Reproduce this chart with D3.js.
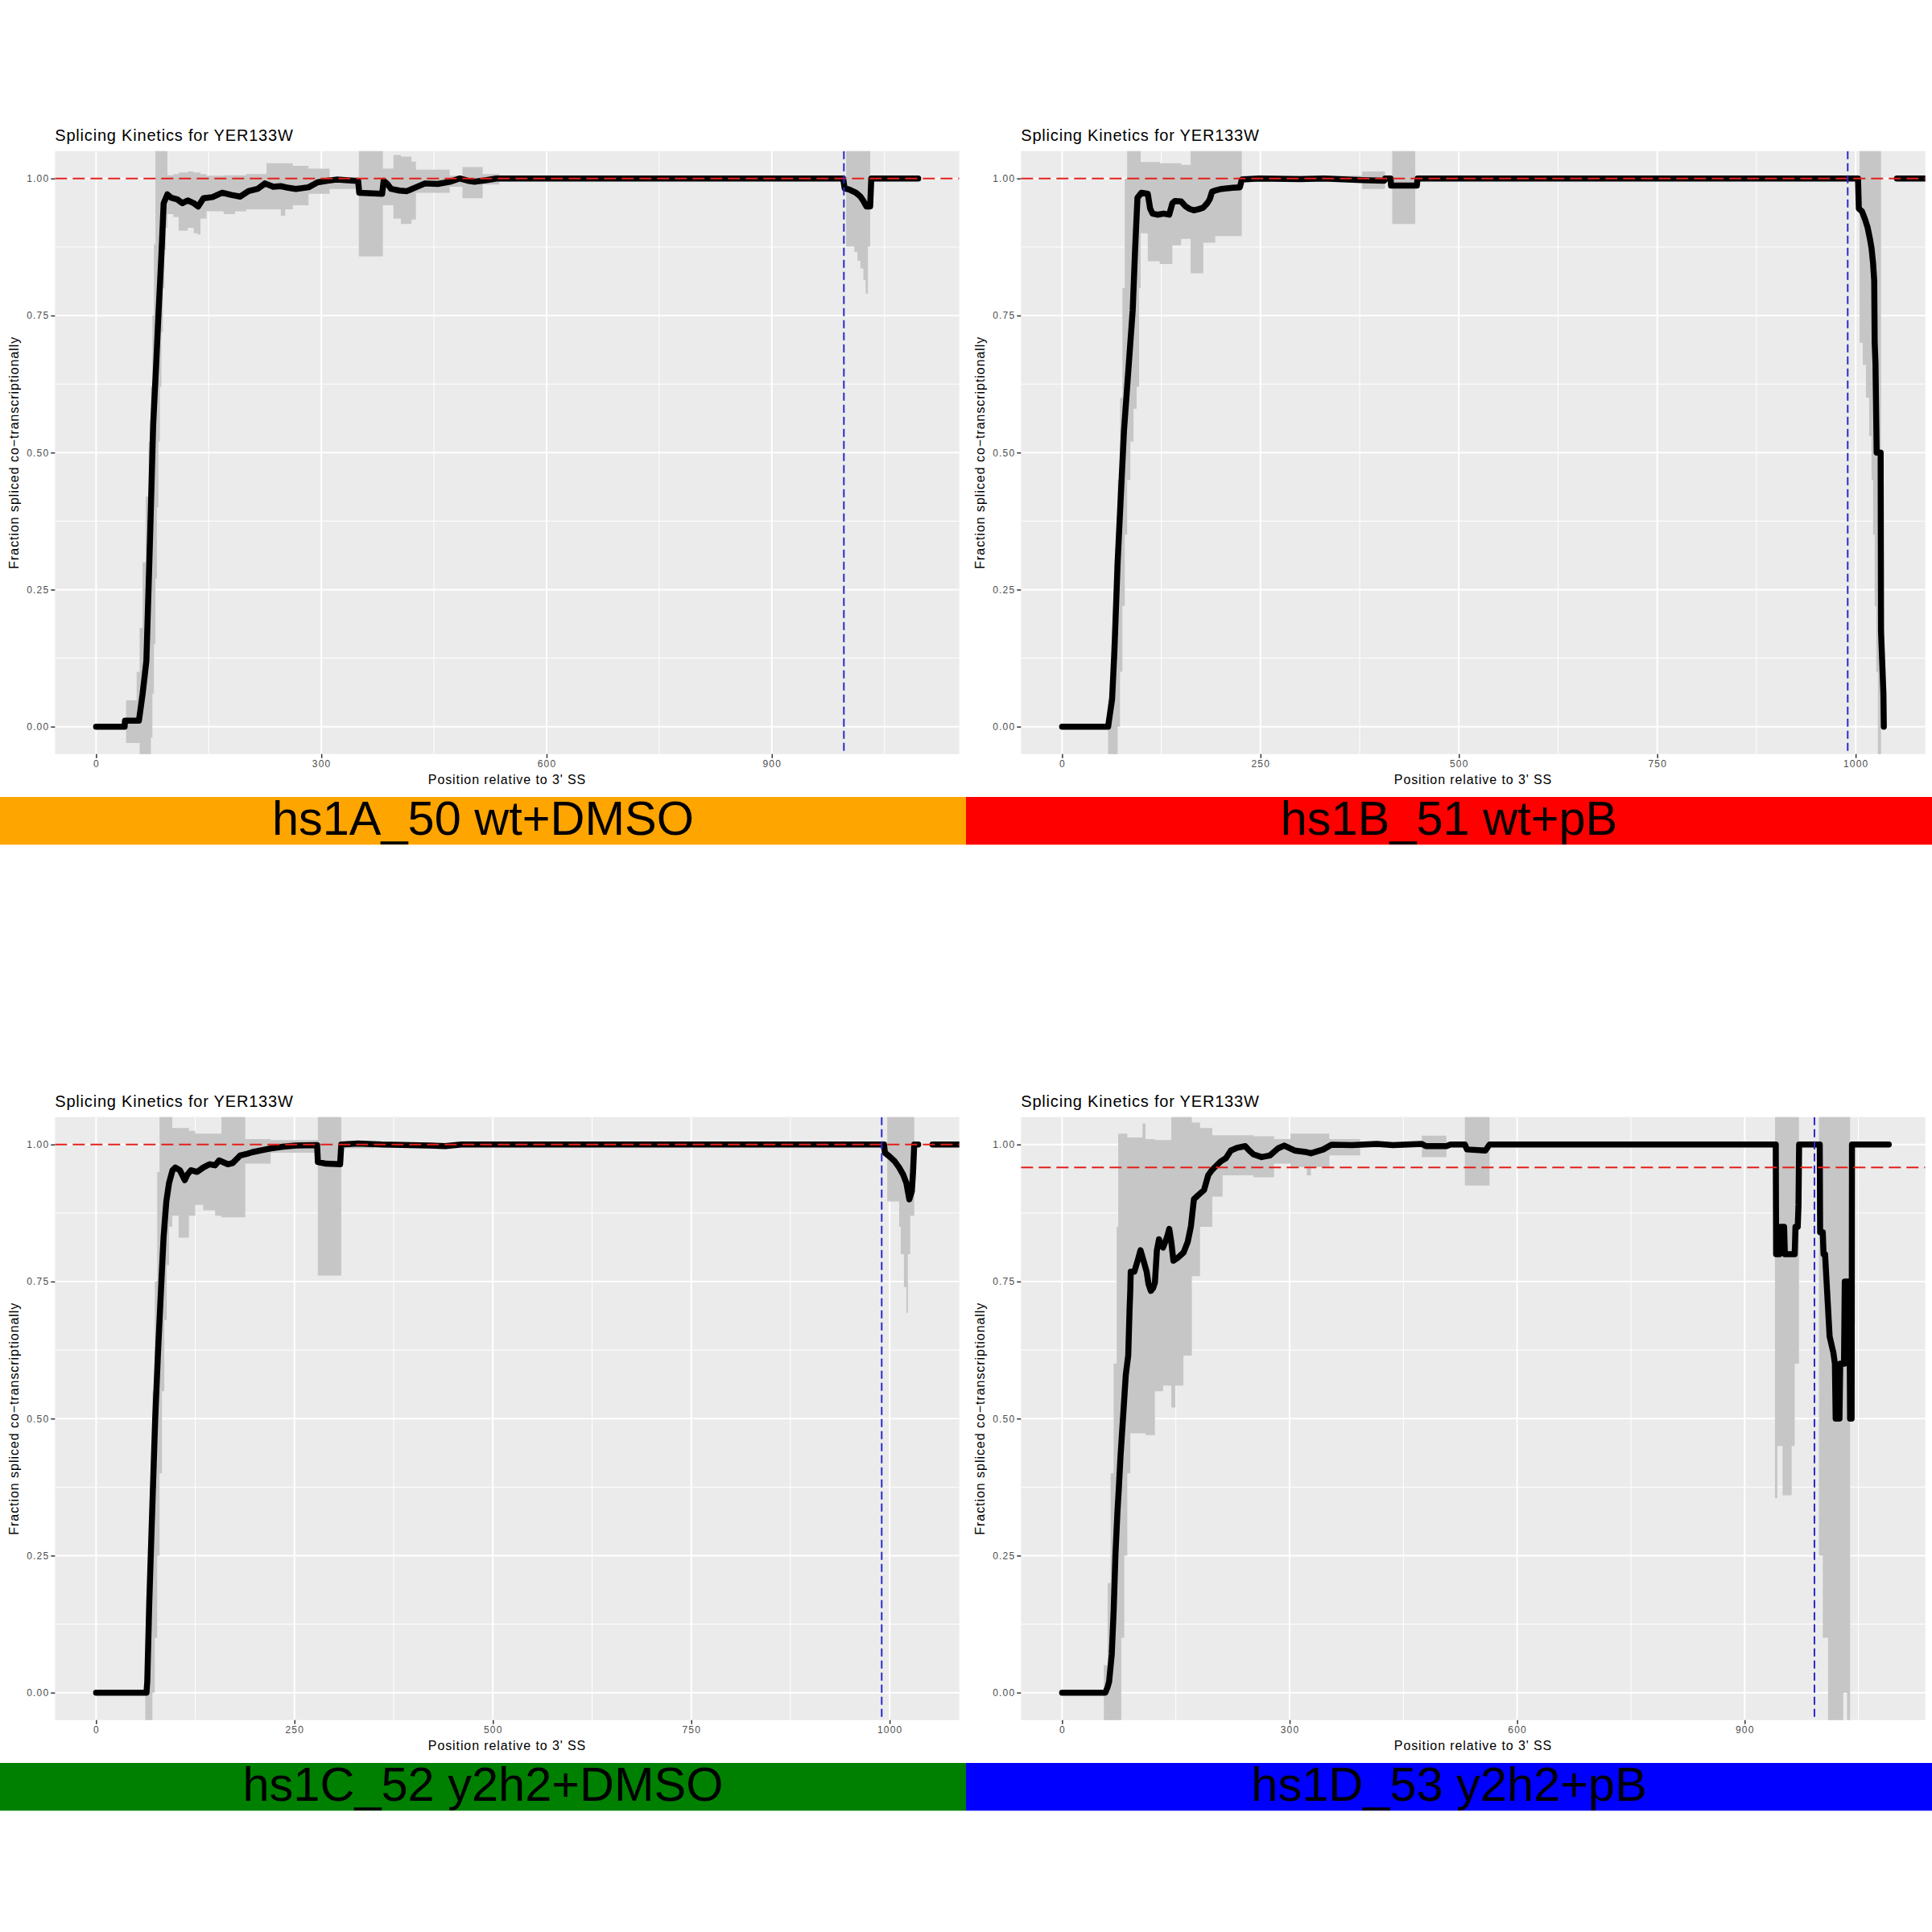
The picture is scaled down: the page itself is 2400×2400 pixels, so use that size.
<!DOCTYPE html>
<html><head><meta charset="utf-8">
<script src="https://cdn.jsdelivr.net/npm/d3@7"></script>
<style>
body{margin:0;background:#fff}
svg{display:block}
text{font-family:"Liberation Sans",Arial,Helvetica,sans-serif}
</style>
</head><body>
<svg id="chart" width="2400" height="2400"></svg>
<script>
// ---------- DATA ----------
const chartTitle = "Splicing Kinetics for YER133W";
const yTitle = "Fraction spliced co\u2212transcriptionally";
const xTitle = "Position relative to 3' SS";
const panelLabels = ["hs1A_50 wt+DMSO", "hs1B_51 wt+pB", "hs1C_52 y2h2+DMSO", "hs1D_53 y2h2+pB"];
const bandColors = ["#FFA500", "#FF0000", "#008000", "#0000FF"];
const xMax = [1095, 1036, 1036, 1084];
const xTicks = [[0,300,600,900],[0,250,500,750,1000],[0,250,500,750,1000],[0,300,600,900]];
const xMinor = [[150,450,750,1050],[125,375,625,875],[125,375,625,875],[150,450,750,1050]];
const yTicks = [0, 0.25, 0.5, 0.75, 1];
const yMinor = [0.125, 0.375, 0.625, 0.875];
const hlineY = [1, 1, 1, 0.958];
const vlineX = [996, 990, 990, 992];

// Panel A line
const posA  = [0,38,38.5,57,58,62,67,72,76,80,83,87,90,95,100,108,115,122,130,136,143,155,168,180,192,203,215,225,236,246,256,266,283,295,308,320,344,349,350.5,381,383,388,393,404,414,426,438,455,471,484,495,504,520,533,560,995,997,1003,1012,1018,1022,1026,1031,1032.5,1095];
const fracA = [0,0,0.011,0.011,0.02,0.06,0.12,0.35,0.55,0.66,0.75,0.86,0.955,0.971,0.965,0.962,0.955,0.96,0.955,0.949,0.964,0.966,0.974,0.97,0.967,0.977,0.981,0.991,0.985,0.986,0.983,0.981,0.984,0.993,0.996,0.998,0.996,0.996,0.974,0.972,0.996,0.99,0.981,0.978,0.977,0.984,0.991,0.99,0.994,1.0,0.996,0.994,0.997,1.0,1.0,1.0,0.982,0.98,0.974,0.967,0.959,0.949,0.949,1.0,1.0];
// Panel A ribbon (step)
const ribPosA = [0,40,54,58,62,66,70,73,75,77,79,81,83,85,87,89,91,93,95,103,110,122,130,135,139,147,170,185,200,227,246,252,262,283,311,350,382,396,406,420,426,471,488,515,537,560,999,1010,1014,1018,1022,1025,1028,1031,1100];
const ribLoA  = [0,-0.03,-0.03,-0.07,-0.07,-0.07,-0.07,-0.02,0.06,0.15,0.27,0.40,0.52,0.62,0.72,0.80,0.87,0.91,0.935,0.93,0.905,0.91,0.90,0.898,0.927,0.94,0.935,0.94,0.944,0.944,0.932,0.944,0.951,0.972,0.981,0.858,0.951,0.927,0.917,0.925,0.974,0.985,0.964,0.989,0.995,1,0.876,0.866,0.85,0.836,0.815,0.79,0.876,1,1];
const ribHiA  = [0,0.048,0.10,0.18,0.30,0.42,0.52,0.62,0.75,0.88,1.1,1.1,1.1,1.1,1.1,1.1,1.1,1.1,1.006,1.008,1.011,1.013,1.011,1.011,1.008,1.005,1.006,1.006,1.008,1.028,1.028,1.028,1.023,1.018,1.0,1.1,1.018,1.043,1.04,1.031,1.016,1.005,1.021,1.008,1.003,1,1.1,1.1,1.1,1.1,1.1,1.1,1.1,1,1];

// Panel B line
const posB  = [0,58,60,63,66,70,74,78,82,86,89,92,95,100,108,111,114,120,128,135,139,142,150,155,160,166,172,178,183,186,189,195,201,215,224,226.5,248,300,330,378,406,407,414,414.5,447,448,1003,1004,1008,1012,1015,1018,1020,1022,1023.4,1024,1025,1026.5,1031.5,1032,1035,1035.5,1036,1052,1100];
const fracB = [0,0,0.02,0.05,0.14,0.30,0.42,0.54,0.62,0.70,0.76,0.87,0.965,0.974,0.972,0.945,0.936,0.934,0.936,0.934,0.955,0.959,0.958,0.95,0.945,0.942,0.944,0.947,0.955,0.962,0.976,0.979,0.981,0.983,0.984,0.998,1.0,0.999,1.0,0.997,0.996,1.0,1.0,0.987,0.987,1.0,1.0,0.945,0.94,0.925,0.911,0.89,0.873,0.845,0.813,0.70,0.663,0.50,0.50,0.174,0.06,0.0,null,1.0,1.0];
const ribPosB = [0,58,62,66,70,73,76,79,82,86,90,94,97,99,108,123,139,150,162,178,193,226.5,378,407,416,445,1005,1009,1013,1017,1020,1022,1024,1026,1028,1032,1100];
const ribLoB  = [0,-0.07,-0.07,-0.07,0.0,0.10,0.22,0.35,0.45,0.52,0.58,0.62,0.80,0.90,0.849,0.844,0.878,0.89,0.827,0.883,0.895,0.995,0.981,0.995,0.917,1,0.70,0.66,0.60,0.53,0.45,0.35,0.22,0.10,-0.07,1,1];
const ribHiB  = [0,0.05,0.15,0.30,0.45,0.60,0.80,1.0,1.1,1.1,1.1,1.1,1.1,1.03,1.03,1.028,1.028,1.025,1.1,1.1,1.1,1.005,1.013,1.003,1.1,1,1.1,1.1,1.1,1.1,1.1,1.1,1.1,1.1,1.1,1,1];

// Panel C line
const posC  = [0,63.5,64.5,67,70,74.5,78,82.3,85,88.5,92,96.3,100,105.6,111.8,115,119.5,127.3,135,143,150,155,166,172,181.6,190,197,210,220.5,235,251.6,278.5,279.5,290,307.5,309,330,360,420,440,460,993,994,1000,1006,1012,1017,1021,1024.8,1028,1029.5,1031,1036,1040,1054,1100];
const fracC = [0,0,0.02,0.163,0.30,0.50,0.62,0.75,0.83,0.896,0.93,0.953,0.958,0.953,0.935,0.945,0.953,0.95,0.958,0.964,0.962,0.971,0.964,0.966,0.98,0.983,0.986,0.99,0.993,0.996,0.998,0.999,0.968,0.965,0.964,1.0,1.002,1.0,0.998,0.997,1.0,1.0,0.985,0.978,0.97,0.958,0.945,0.93,0.90,0.915,0.95,1.0,1.0,null,1.0,1.0];
const ribPosC = [0,62,65,68,71,74,77,80,83,86,89,92,96,104,117,125,135,150,158,188,220,279.5,309,350,997,1012,1014,1018,1021,1023,1026,1031,1100];
const ribLoC  = [0,-0.07,-0.07,-0.07,0.0,0.10,0.25,0.40,0.55,0.68,0.78,0.85,0.87,0.83,0.87,0.89,0.88,0.87,0.867,0.965,0.985,0.761,0.993,1,0.896,0.85,0.80,0.74,0.693,0.80,0.87,1,1];
const ribHiC  = [0,0.05,0.18,0.35,0.55,0.75,0.95,1.1,1.1,1.1,1.1,1.1,1.03,1.03,1.025,1.02,1.02,1.02,1.1,1.01,1.008,1.1,1.005,1,1.1,1.1,1.1,1.1,1.1,1.1,1.1,1,1];

// Panel D line
const posD  = [0,57,60,62,65.5,68,70.4,73,74.7,77,79,81.7,84,87.2,89,89.9,90.5,95.3,100,103.4,107,111.5,114,117,120,122.4,125,127.8,130,133.2,138.6,141.3,144,146.8,152.2,160.2,165.6,169.9,173.8,179.1,187.2,192.7,198,209,216,222.5,230.6,241.5,246,252.3,263.1,274,284.8,292.9,306.5,322.7,328.1,344.4,355.2,382.3,414.7,436.4,474.3,479.7,506.7,512.2,531.1,533.8,558.2,563.6,941,941.5,946,947,952,953,966,967,970,971,971.8,999,999.5,1003,1004,1006,1008,1012,1017,1019,1020,1025,1026,1031,1032,1038,1039,1041,1041.5,1090];
const fracD = [0,0,0.01,0.02,0.07,0.15,0.253,0.33,0.37,0.43,0.473,0.53,0.58,0.615,0.70,0.733,0.768,0.768,0.79,0.807,0.79,0.768,0.745,0.733,0.738,0.748,0.807,0.827,0.815,0.812,0.832,0.846,0.822,0.788,0.793,0.803,0.822,0.851,0.90,0.907,0.917,0.944,0.954,0.969,0.975,0.989,0.994,0.997,0.99,0.982,0.977,0.98,0.993,0.998,0.989,0.986,0.984,0.991,0.9995,0.999,1.001,0.999,1.001,0.997,0.997,1.0,1.0,0.991,0.989,1.0,1.0,0.80,0.80,0.85,0.85,0.80,0.80,0.85,0.85,0.89,1.0,1.0,0.84,0.84,0.80,0.80,0.75,0.65,0.62,0.60,0.50,0.50,0.60,0.60,0.75,0.75,0.50,0.50,1.0,1.0];
const ribPosD = [0,55,60,64,68,72,74,78,82,86,90,106,110,122.4,133.2,144,149.4,160,171.1,181.9,198.1,211.7,252.3,279.4,301,322.7,328.1,352.4,393,474.3,506.7,531.1,563.6,940,943,950,962,966,971.6,998,1003,1010,1030,1035,1039,1100];
const ribLoD  = [0,-0.07,-0.07,-0.07,-0.07,-0.07,-0.07,0.10,0.25,0.40,0.473,0.473,0.47,0.55,0.56,0.52,0.56,0.615,0.76,0.85,0.905,0.944,0.94,0.965,0.959,0.944,0.959,0.98,0.995,0.977,0.997,0.925,1,0.355,0.45,0.36,0.45,0.60,1,0.25,0.10,-0.07,0.0,-0.07,1,1];
const ribHiD  = [0,0.05,0.20,0.40,0.60,0.85,1.02,1.02,1.02,1.013,1.013,1.038,1.01,1.008,1.008,1.1,1.1,1.1,1.04,1.03,1.017,1.017,1.015,1.01,1.02,1.02,1.02,1.01,1.004,1.016,1.003,1.1,1,1.1,1.1,1.1,1.1,1.1,1,1.1,1.1,1.1,1.1,1.1,1,1];

const lineData = [[posA,fracA],[posB,fracB],[posC,fracC],[posD,fracD]];
const ribData = [[ribPosA,ribLoA,ribHiA],[ribPosB,ribLoB,ribHiB],[ribPosC,ribLoC,ribHiC],[ribPosD,ribLoD,ribHiD]];

// ---------- LAYOUT ----------
const cell = 1200;
const P = {x0: 68.3, x1: 1191.7, y0: 187.7, y1: 936.7};
const svg = d3.select("#chart");

panelLabels.forEach((label, i) => {
  const ox = (i % 2) * cell, oy = Math.floor(i / 2) * cell;
  const g = svg.append("g").attr("transform", `translate(${ox},${oy})`);
  const L = xMax[i];
  const x = d3.scaleLinear().domain([-0.05 * L, 1.05 * L]).range([P.x0, P.x1]);
  const y = d3.scaleLinear().domain([-0.05, 1.05]).range([P.y1, P.y0]);

  const clipId = "clip" + i;
  g.append("clipPath").attr("id", clipId).append("rect")
    .attr("x", P.x0).attr("y", P.y0).attr("width", P.x1 - P.x0).attr("height", P.y1 - P.y0);

  g.append("rect").attr("x", P.x0).attr("y", P.y0).attr("width", P.x1 - P.x0).attr("height", P.y1 - P.y0).attr("fill", "#EBEBEB");

  const grid = g.append("g");
  yMinor.forEach(v => grid.append("line").attr("x1", P.x0).attr("x2", P.x1).attr("y1", y(v)).attr("y2", y(v)).attr("stroke", "#fff").attr("stroke-width", 1));
  xMinor[i].forEach(v => grid.append("line").attr("y1", P.y0).attr("y2", P.y1).attr("x1", x(v)).attr("x2", x(v)).attr("stroke", "#fff").attr("stroke-width", 1));
  yTicks.forEach(v => grid.append("line").attr("x1", P.x0).attr("x2", P.x1).attr("y1", y(v)).attr("y2", y(v)).attr("stroke", "#fff").attr("stroke-width", 2));
  xTicks[i].forEach(v => grid.append("line").attr("y1", P.y0).attr("y2", P.y1).attr("x1", x(v)).attr("x2", x(v)).attr("stroke", "#fff").attr("stroke-width", 2));

  const plot = g.append("g").attr("clip-path", `url(#${clipId})`);

  const [rp, rl, rh] = ribData[i];
  const rib = rp.map((p, k) => ({x: p, lo: rl[k], hi: rh[k]}));
  plot.append("path").datum(rib)
    .attr("d", d3.area().curve(d3.curveStepAfter).x(d => x(d.x)).y0(d => y(d.lo)).y1(d => y(d.hi)))
    .attr("fill", "#C6C6C6");

  const [lp, lf] = lineData[i];
  const pts = lp.map((p, k) => ({x: p, y: lf[k]}));
  plot.append("path").datum(pts)
    .attr("d", d3.line().defined(d => d.y !== null).x(d => x(d.x)).y(d => y(d.y)))
    .attr("fill", "none").attr("stroke", "#000").attr("stroke-width", 7.5)
    .attr("stroke-linejoin", "round").attr("stroke-linecap", "round");

  plot.append("line").attr("x1", P.x0).attr("x2", P.x1).attr("y1", y(hlineY[i])).attr("y2", y(hlineY[i]))
    .attr("stroke", "#E3201C").attr("stroke-width", 2).attr("stroke-dasharray", "15,7");
  plot.append("line").attr("y1", P.y0).attr("y2", P.y1).attr("x1", x(vlineX[i])).attr("x2", x(vlineX[i]))
    .attr("stroke", "#2A2AC8").attr("stroke-width", 2).attr("stroke-dasharray", "10,5");

  const ya = g.append("g").attr("transform", `translate(${P.x0},0)`)
    .call(d3.axisLeft(y).tickValues(yTicks).tickFormat(d3.format(".2f")).tickSize(5).tickPadding(2));
  const xa = g.append("g").attr("transform", `translate(0,${P.y1})`)
    .call(d3.axisBottom(x).tickValues(xTicks[i]).tickFormat(d3.format("d")).tickSize(5).tickPadding(3));
  [ya, xa].forEach(a => {
    a.select(".domain").remove();
    a.selectAll(".tick line").attr("stroke", "#333").attr("stroke-width", 1.5);
    a.selectAll(".tick text").attr("fill", "#4D4D4D").style("font-size", "12px")
      .style("letter-spacing", "1.2px")
      .style("font-family", "'Liberation Sans', Arial, sans-serif");
  });

  g.append("text").attr("x", P.x0).attr("y", 175).attr("font-size", 20)
    .style("letter-spacing", "0.8px").attr("fill", "#000").text(chartTitle);
  g.append("text").attr("transform", `translate(23,${(P.y0 + P.y1) / 2}) rotate(-90)`)
    .attr("text-anchor", "middle").attr("font-size", 16).style("letter-spacing", "0.95px")
    .attr("fill", "#000").text(yTitle);
  g.append("text").attr("x", (P.x0 + P.x1) / 2).attr("y", 974).attr("text-anchor", "middle")
    .attr("font-size", 16).style("letter-spacing", "0.9px").attr("fill", "#000").text(xTitle);

  g.append("rect").attr("x", 0).attr("y", 990).attr("width", cell).attr("height", 59.3).attr("fill", bandColors[i]);
  g.append("text").attr("x", 600).attr("y", 1037).attr("text-anchor", "middle")
    .attr("font-size", 59.5).attr("fill", "#000").text(label);
});
</script>
</body></html>
